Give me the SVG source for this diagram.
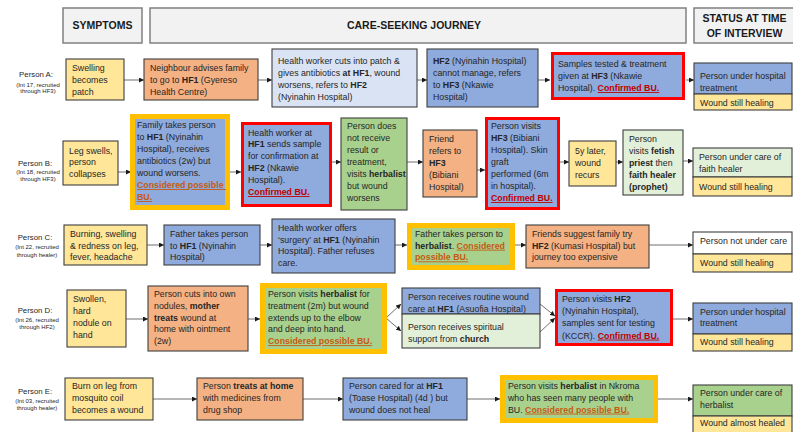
<svg xmlns="http://www.w3.org/2000/svg" width="793" height="432" viewBox="0 0 793 432">
<style>
.t{font-family:"Liberation Sans",Arial,sans-serif;font-size:8.8px;fill:#262626}
.b{font-weight:bold}
.cp{font-weight:bold;fill:#C55A11;text-decoration:underline}
.cf{font-weight:bold;fill:#C00000;text-decoration:underline}
.h{font-family:"Liberation Sans",Arial,sans-serif;font-size:10.5px;font-weight:bold;fill:#1a1a1a;text-anchor:middle}
.hb{fill:#F2F2F2;stroke:#808080;stroke-width:1.5}
.lab{font-family:"Liberation Sans",Arial,sans-serif;font-size:7.8px;fill:#262626;text-anchor:middle}
.sub{font-family:"Liberation Sans",Arial,sans-serif;font-size:6px;fill:#262626;text-anchor:middle}
.box{stroke:#3F3F3F;stroke-width:1.1}
.y{fill:#FFE699}
.o{fill:#F4B183}
.lb{fill:#DAE3F3}
.bl{fill:#8FAADC}
.g{fill:#A9D18E}
.lg{fill:#E2F0D9}
.w{fill:#FFFFFF}
.red{stroke:#FF0000;stroke-width:3}
.gold{stroke:#FFC000;stroke-width:5}
.c{stroke:#6F6F6F;stroke-width:1;fill:none;marker-end:url(#ah)}
</style>
<defs>
<marker id="ah" viewBox="0 0 6 6" refX="6" refY="3" markerWidth="5" markerHeight="5" orient="auto" markerUnits="userSpaceOnUse">
<path d="M0,0 L6,3 L0,6 z" fill="#1a1a1a"/>
</marker>
</defs>
<rect width="793" height="432" fill="#FFFFFF"/>

<g id="headers">
<rect class="hb" x="63" y="8" width="79" height="35"/>
<text class="h" x="102.5" y="29">SYMPTOMS</text>
<rect class="hb" x="150" y="8" width="536" height="35"/>
<text class="h" x="414" y="29">CARE-SEEKING JOURNEY</text>
<rect class="hb" x="694" y="8" width="102" height="35"/>
<text class="h" x="744.5" y="22">STATUS AT TIME</text>
<text class="h" x="744.5" y="37">OF INTERVIEW</text>
</g>

<g id="labels">
<text class="lab" x="36" y="77">Person A:</text>
<text class="sub" x="38" y="86.5">(Int 17, recruited</text>
<text class="sub" x="38" y="93">through HF3)</text>
<text class="lab" x="35" y="166">Person B:</text>
<text class="sub" x="38" y="173.5">(Int 18, recruited</text>
<text class="sub" x="38" y="181">through HF3)</text>
<text class="lab" x="35" y="240">Person C:</text>
<text class="sub" x="37" y="248.5">(Int 22, recruited</text>
<text class="sub" x="37" y="257">through healer)</text>
<text class="lab" x="35" y="313">Person D:</text>
<text class="sub" x="37" y="321.5">(Int 26, recruited</text>
<text class="sub" x="37" y="329">through HF2)</text>
<text class="lab" x="35" y="394">Person E:</text>
<text class="sub" x="37" y="403">(Int 03, recruited</text>
<text class="sub" x="37" y="410">through healer)</text>
</g>

<g id="connectors">
<line class="c" x1="124" y1="80" x2="144" y2="80"/>
<line class="c" x1="258" y1="80" x2="272" y2="80"/>
<line class="c" x1="417" y1="80" x2="427" y2="80"/>
<line class="c" x1="538" y1="80" x2="550" y2="80"/>
<line class="c" x1="686" y1="80" x2="694" y2="80"/>
<line class="c" x1="118" y1="172" x2="131" y2="172"/>
<line class="c" x1="230" y1="172" x2="241" y2="172"/>
<line class="c" x1="332" y1="162" x2="341" y2="162"/>
<line class="c" x1="407" y1="162" x2="423" y2="162"/>
<line class="c" x1="477" y1="170" x2="485" y2="170"/>
<line class="c" x1="560" y1="162" x2="569" y2="162"/>
<line class="c" x1="616" y1="162" x2="623" y2="162"/>
<line class="c" x1="683" y1="161" x2="693" y2="161"/>
<line class="c" x1="147" y1="245" x2="164" y2="245"/>
<line class="c" x1="260" y1="245" x2="272" y2="245"/>
<line class="c" x1="395" y1="245" x2="407" y2="245"/>
<line class="c" x1="515" y1="245" x2="526" y2="245"/>
<line class="c" x1="649" y1="245" x2="693" y2="245"/>
<line class="c" x1="126" y1="319" x2="148" y2="319"/>
<line class="c" x1="248" y1="319" x2="260" y2="319"/>
<line class="c" x1="386" y1="318" x2="401" y2="304"/>
<line class="c" x1="386" y1="318" x2="401" y2="331"/>
<line class="c" x1="540" y1="304" x2="555" y2="316"/>
<line class="c" x1="540" y1="332" x2="555" y2="318"/>
<line class="c" x1="673" y1="319" x2="693" y2="319"/>
<line class="c" x1="153" y1="399" x2="197" y2="399"/>
<line class="c" x1="303" y1="399" x2="343" y2="399"/>
<line class="c" x1="467" y1="399" x2="500" y2="399"/>
<line class="c" x1="658" y1="399" x2="693" y2="399"/>
</g>

<!-- Person A -->
<g id="a1"><rect class="box y" x="66" y="59" width="58" height="41"/>
<text class="t" x="72" y="70.6"><tspan x="72">Swelling</tspan><tspan x="72" dy="12">becomes</tspan><tspan x="72" dy="12">patch</tspan></text></g>
<g id="a2"><rect class="box o" x="144" y="59" width="114" height="41"/>
<text class="t" x="150" y="70.6"><tspan x="150">Neighbour advises family</tspan><tspan x="150" dy="12">to go to  <tspan class="b">HF1</tspan> (Gyereso</tspan><tspan x="150" dy="12">Health Centre)</tspan></text></g>
<g id="a3"><rect class="box lb" x="272" y="49" width="145" height="58"/>
<text class="t" x="278" y="64"><tspan x="278">Health worker  cuts into patch &amp;</tspan><tspan x="278" dy="12">gives antibiotics <tspan class="b">at HF1</tspan>, wound</tspan><tspan x="278" dy="12">worsens, refers to <tspan class="b">HF2</tspan></tspan><tspan x="278" dy="12">(Nyinahin Hospital)</tspan></text></g>
<g id="a4"><rect class="box bl" x="427" y="49" width="111" height="58"/>
<text class="t" x="433" y="64"><tspan x="433"><tspan class="b">HF2</tspan> (Nyinahin Hospital)</tspan><tspan x="433" dy="12">cannot manage, refers</tspan><tspan x="433" dy="12">to <tspan class="b">HF3</tspan> (Nkawie</tspan><tspan x="433" dy="12">Hospital)</tspan></text></g>
<g id="a5"><rect class="bl red" x="552.5" y="53.5" width="131" height="45"/>
<text class="t" x="558" y="67"><tspan x="558">Samples tested &amp; treatment</tspan><tspan x="558" dy="12">given at <tspan class="b">HF3</tspan> (Nkawie</tspan><tspan x="558" dy="12">Hospital).  <tspan class="cf">Confirmed BU.</tspan></tspan></text></g>
<g id="sa"><rect class="box bl" x="694" y="63" width="98" height="31"/>
<rect class="box y" x="694" y="94" width="98" height="16"/>
<text class="t" x="700" y="79"><tspan x="700">Person under hospital</tspan><tspan x="700" dy="11.5">treatment</tspan></text>
<text class="t" x="700" y="106">Wound still healing</text></g>

<!-- Person B -->
<g id="b1"><rect class="box y" x="63" y="141" width="55" height="44"/>
<text class="t" x="69" y="153.5"><tspan x="69">Leg swells,</tspan><tspan x="69" dy="11.7">person</tspan><tspan x="69" dy="11.7">collapses</tspan></text></g>
<g id="b2"><rect class="bl gold" x="132.5" y="116.5" width="95" height="91"/>
<text class="t" x="137" y="128"><tspan x="137">Family takes person</tspan><tspan x="137" dy="12">to <tspan class="b">HF1</tspan> (Nyinahin</tspan><tspan x="137" dy="12">Hospital), receives</tspan><tspan x="137" dy="12">antibiotics (2w) but</tspan><tspan x="137" dy="12">wound worsens.</tspan><tspan x="137" dy="12" class="cp">Considered possible </tspan><tspan x="137" dy="12" class="cp">BU.</tspan></text></g>
<g id="b3"><rect class="bl red" x="242.5" y="123.5" width="88" height="82"/>
<text class="t" x="248" y="135.5"><tspan x="248">Health worker  at</tspan><tspan x="248" dy="11.9"><tspan class="b">HF1</tspan> sends sample</tspan><tspan x="248" dy="11.9">for confirmation at</tspan><tspan x="248" dy="11.9"><tspan class="b">HF2</tspan> (Nkawie</tspan><tspan x="248" dy="11.9">Hospital).</tspan><tspan x="248" dy="11.9" class="cf">Confirmed BU.</tspan></text></g>
<g id="b4"><rect class="box g" x="341" y="118" width="66" height="92"/>
<text class="t" x="347" y="129"><tspan x="347">Person does</tspan><tspan x="347" dy="12">not receive</tspan><tspan x="347" dy="12">result or</tspan><tspan x="347" dy="12">treatment,</tspan><tspan x="347" dy="12">visits <tspan class="b">herbalist</tspan></tspan><tspan x="347" dy="12">but wound</tspan><tspan x="347" dy="12">worsens</tspan></text></g>
<g id="b5"><rect class="box o" x="423" y="130" width="54" height="67"/>
<text class="t" x="429" y="142"><tspan x="429">Friend</tspan><tspan x="429" dy="12">refers to</tspan><tspan x="429" dy="12" class="b">HF3</tspan><tspan x="429" dy="12">(Bibiani</tspan><tspan x="429" dy="12">Hospital)</tspan></text></g>
<g id="b6"><rect class="bl red" x="486.5" y="118.5" width="72" height="90"/>
<text class="t" x="491" y="129"><tspan x="491">Person visits</tspan><tspan x="491" dy="12"><tspan class="b">HF3</tspan> (Bibiani</tspan><tspan x="491" dy="12">Hospital). Skin</tspan><tspan x="491" dy="12">graft</tspan><tspan x="491" dy="12">performed (6m</tspan><tspan x="491" dy="12">in hospital).</tspan><tspan x="491" dy="12" class="cf">Confirmed BU.</tspan></text></g>
<g id="b7"><rect class="box y" x="569" y="141" width="47" height="45"/>
<text class="t" x="575" y="154"><tspan x="575">5y later,</tspan><tspan x="575" dy="12">wound</tspan><tspan x="575" dy="12">recurs</tspan></text></g>
<g id="b8"><rect class="box lg" x="623" y="130" width="60" height="65"/>
<text class="t" x="629" y="142"><tspan x="629">Person</tspan><tspan x="629" dy="12">visits <tspan class="b">fetish</tspan></tspan><tspan x="629" dy="12"><tspan class="b">priest</tspan> then</tspan><tspan x="629" dy="12" class="b">faith healer</tspan><tspan x="629" dy="12" class="b">(prophet)</tspan></text></g>
<g id="sb"><rect class="box lg" x="693" y="148" width="99" height="29"/>
<rect class="box y" x="693" y="177" width="99" height="19"/>
<text class="t" x="699" y="160"><tspan x="699">Person under care of</tspan><tspan x="699" dy="12">faith healer</tspan></text>
<text class="t" x="699" y="190">Wound still healing</text></g>

<!-- Person C -->
<g id="c1"><rect class="box y" x="64" y="225" width="83" height="40"/>
<text class="t" x="70" y="237"><tspan x="70">Burning, swelling</tspan><tspan x="70" dy="11.7">&amp; redness on leg,</tspan><tspan x="70" dy="11.7">fever, headache</tspan></text></g>
<g id="c2"><rect class="box bl" x="164" y="225" width="96" height="40"/>
<text class="t" x="170" y="237"><tspan x="170">Father takes person</tspan><tspan x="170" dy="11.7">to <tspan class="b">HF1</tspan> (Nyinahin</tspan><tspan x="170" dy="11.7">Hospital)</tspan></text></g>
<g id="c3"><rect class="box bl" x="272" y="219" width="123" height="54"/>
<text class="t" x="278" y="231"><tspan x="278">Health worker  offers</tspan><tspan x="278" dy="11.7">‘surgery’ at <tspan class="b">HF1</tspan> (Nyinahin</tspan><tspan x="278" dy="11.7">Hospital). Father refuses</tspan><tspan x="278" dy="11.7">care.</tspan></text></g>
<g id="c4"><rect class="g gold" x="409.5" y="225.5" width="103" height="42"/>
<text class="t" x="415" y="237"><tspan x="415">Father takes person to</tspan><tspan x="415" dy="11.7"><tspan class="b">herbalist</tspan>.  <tspan class="cp">Considered</tspan></tspan><tspan x="415" dy="11.7" class="cp">possible BU.</tspan></text></g>
<g id="c5"><rect class="box o" x="526" y="225" width="123" height="43"/>
<text class="t" x="532" y="237"><tspan x="532">Friends suggest family try</tspan><tspan x="532" dy="11.7"><tspan class="b">HF2</tspan> (Kumasi Hospital) but</tspan><tspan x="532" dy="11.7">journey too expensive</tspan></text></g>
<g id="sc"><rect class="box w" x="693" y="232" width="99" height="22"/>
<rect class="box y" x="693" y="254" width="99" height="18"/>
<text class="t" x="700" y="243.5">Person not under care</text>
<text class="t" x="700" y="266">Wound still healing</text></g>

<!-- Person D -->
<g id="d1"><rect class="box y" x="67" y="290" width="59" height="57"/>
<text class="t" x="73" y="302"><tspan x="73">Swollen,</tspan><tspan x="73" dy="12">hard</tspan><tspan x="73" dy="12">nodule on</tspan><tspan x="73" dy="12">hand</tspan></text></g>
<g id="d2"><rect class="box o" x="148" y="286" width="100" height="65"/>
<text class="t" x="154" y="297"><tspan x="154">Person cuts into own</tspan><tspan x="154" dy="11.8">nodules,  <tspan class="b">mother</tspan></tspan><tspan x="154" dy="11.8"><tspan class="b">treats</tspan> wound at</tspan><tspan x="154" dy="11.8">home with ointment</tspan><tspan x="154" dy="11.8">(2w)</tspan></text></g>
<g id="d3"><rect class="g gold" x="262.5" y="285.5" width="122" height="66"/>
<text class="t" x="268" y="297"><tspan x="268">Person visits  <tspan class="b">herbalist</tspan>  for</tspan><tspan x="268" dy="11.8">treatment (2m) but wound</tspan><tspan x="268" dy="11.8">extends up to the elbow</tspan><tspan x="268" dy="11.8">and deep into hand.</tspan><tspan x="268" dy="11.8" class="cp">Considered possible BU. </tspan></text></g>
<g id="d4"><rect class="box bl" x="402" y="288" width="138" height="26"/>
<rect class="box lg" x="402" y="314" width="138" height="34"/>
<text class="t" x="408" y="300"><tspan x="408">Person receives routine wound</tspan><tspan x="408" dy="11.7">care at <tspan class="b">HF1</tspan> (Asuofia Hospital)</tspan></text>
<text class="t" x="408" y="330"><tspan x="408">Person receives spiritual</tspan><tspan x="408" dy="11.7">support from  <tspan class="b">church</tspan></tspan></text></g>
<g id="d5"><rect class="bl red" x="556.5" y="290.5" width="115" height="54"/>
<text class="t" x="562" y="302"><tspan x="562">Person visits  <tspan class="b">HF2</tspan></tspan><tspan x="562" dy="12.2">(Nyinahin  Hospital),</tspan><tspan x="562" dy="12.2">samples sent for testing</tspan><tspan x="562" dy="12.2">(KCCR).  <tspan class="cf">Confirmed BU.</tspan></tspan></text></g>
<g id="sd"><rect class="box bl" x="693" y="303" width="99" height="31"/>
<rect class="box y" x="693" y="334" width="99" height="17"/>
<text class="t" x="700" y="314.5"><tspan x="700">Person under hospital</tspan><tspan x="700" dy="11.7">treatment</tspan></text>
<text class="t" x="700" y="345">Wound still healing</text></g>

<!-- Person E -->
<g id="e1"><rect class="box y" x="65" y="378" width="88" height="42"/>
<text class="t" x="72" y="389"><tspan x="72">Burn on leg from</tspan><tspan x="72" dy="11.8">mosquito coil</tspan><tspan x="72" dy="11.8">becomes a wound</tspan></text></g>
<g id="e2"><rect class="box o" x="197" y="378" width="106" height="42"/>
<text class="t" x="203" y="389"><tspan x="203">Person <tspan class="b">treats at home</tspan></tspan><tspan x="203" dy="11.8">with medicines from</tspan><tspan x="203" dy="11.8">drug shop</tspan></text></g>
<g id="e3"><rect class="box bl" x="343" y="378" width="124" height="42"/>
<text class="t" x="349" y="389"><tspan x="349">Person cared for at  <tspan class="b">HF1</tspan></tspan><tspan x="349" dy="11.8">(Toase Hospital) (4d ) but</tspan><tspan x="349" dy="11.8">wound does not heal</tspan></text></g>
<g id="e4"><rect class="g gold" x="502.5" y="377.5" width="153" height="43"/>
<text class="t" x="508" y="389"><tspan x="508">Person visits <tspan class="b">herbalist</tspan> in Nkroma</tspan><tspan x="508" dy="11.8">who has seen many people with</tspan><tspan x="508" dy="11.8">BU.  <tspan class="cp">Considered possible BU. </tspan></tspan></text></g>
<g id="se"><rect class="box g" x="693" y="385" width="99" height="31"/>
<rect class="box y" x="693" y="416" width="99" height="19"/>
<text class="t" x="700" y="395.5"><tspan x="700">Person under care of</tspan><tspan x="700" dy="12.4">herbalist</tspan></text>
<text class="t" x="700" y="425.5">Wound almost healed</text></g>
</svg>
